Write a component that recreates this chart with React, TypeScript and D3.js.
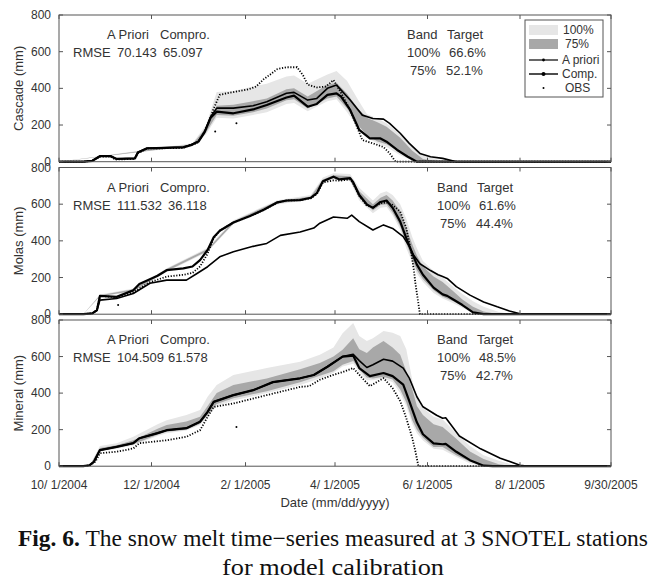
import React from "react";
import * as d3 from "d3";

const W = 666;
const H = 587;

// ---- axis data ----
const xTickDays = [0, 61, 123, 182, 243, 304, 364];
const xTickLabels = ["10/ 1/2004", "12/ 1/2004", "2/ 1/2005", "4/ 1/2005", "6/ 1/2005", "8/ 1/2005", "9/30/2005"];
const yTicks = [0, 200, 400, 600, 800];

const stationNames = ["Cascade (mm)", "Molas (mm)", "Mineral (mm)"];
const rmseApriori = ["70.143", "111.532", "104.509"];
const rmseCompro = ["65.097", "36.118", "61.578"];
const target100 = ["66.6%", "61.6%", "48.5%"];
const target75 = ["52.1%", "44.4%", "42.7%"];

type P = [number, number];
type B = [number, number, number, number, number]; // day, lo100, lo75, hi75, hi100

// ---- Cascade ----
const cascadeObs: P[] = [[0,0],[16,0],[22,5],[27,28],[34,28],[37,12],[50,15],[52,45],[58,72],[82,75],[86,90],[91,100],[95,150],[99,220],[102,290],[106,365],[115,380],[125,395],[130,410],[135,450],[140,480],[144,505],[150,515],[157,515],[161,470],[164,420],[170,405],[176,410],[181,445],[185,390],[192,282],[200,118],[207,100],[214,80],[218,46],[222,0],[364,0]];
const cascadeObsOut: P[] = [[103,165],[117,210]];
const cascadeApriori: P[] = [[0,0],[16,0],[22,5],[27,32],[34,32],[38,15],[50,18],[52,52],[58,75],[82,80],[87,92],[92,112],[96,165],[100,245],[104,292],[115,292],[128,305],[137,327],[150,373],[155,378],[164,336],[170,345],[177,400],[183,418],[185,400],[192,336],[200,254],[207,236],[214,232],[218,209],[225,155],[231,100],[238,45],[245,27],[253,18],[262,0],[364,0]];
const cascadeComp: P[] = [[0,0],[16,0],[22,5],[27,30],[34,30],[38,15],[50,18],[52,50],[58,72],[82,78],[87,90],[92,110],[96,160],[100,240],[104,273],[115,264],[128,285],[137,309],[150,350],[155,360],[164,300],[170,315],[177,364],[183,373],[186,355],[192,282],[198,173],[205,127],[212,127],[216,109],[223,64],[230,27],[236,0],[364,0]];
const cascadeBand: B[] = [[0,0,0,0,0],[88,85,88,95,100],[97,150,160,185,200],[104,240,255,305,380],[115,235,250,310,385],[128,255,270,330,410],[137,270,290,345,425],[150,315,335,395,465],[155,320,340,400,470],[164,275,290,355,425],[177,330,345,420,475],[183,340,355,430,495],[190,270,290,370,440],[197,185,200,290,340],[203,130,145,240,260],[210,100,110,215,235],[216,80,95,190,210],[225,35,50,130,150],[233,5,15,60,80],[240,0,0,15,40],[250,0,0,2,10],[260,0,0,0,0],[364,0,0,0,0]];

// ---- Molas ----
const molasObs: P[] = [[0,0],[16,0],[22,5],[25,22],[27,100],[38,92],[49,120],[60,175],[71,205],[82,215],[88,225],[93,260],[98,330],[102,415],[106,455],[115,500],[126,535],[135,568],[144,608],[150,620],[159,622],[166,632],[170,655],[174,718],[181,730],[185,728],[192,735],[194,712],[198,645],[203,592],[207,582],[212,605],[216,610],[220,595],[225,560],[229,470],[232,350],[234,240],[235,170],[236,113],[237,58],[238,0],[364,0]];
const molasObsOut: P[] = [[39,50]];
const molasApriori: P[] = [[0,0],[16,0],[22,5],[25,20],[27,77],[38,86],[49,113],[60,169],[71,186],[84,186],[91,222],[98,259],[106,313],[115,341],[128,370],[137,386],[146,430],[159,448],[168,470],[172,496],[181,530],[190,523],[193,540],[198,505],[207,459],[214,487],[220,468],[227,423],[231,370],[234,320],[238,275],[245,238],[250,215],[253,205],[256,195],[262,150],[271,104],[280,67],[289,40],[297,18],[304,2],[310,0],[364,0]];
const molasComp: P[] = [[0,0],[16,0],[22,5],[25,22],[27,100],[38,95],[49,130],[53,165],[65,210],[71,240],[82,250],[88,260],[93,295],[98,350],[102,420],[106,455],[115,500],[126,535],[135,570],[144,610],[150,620],[159,622],[166,635],[170,660],[174,725],[181,750],[185,735],[192,742],[194,720],[198,650],[203,598],[207,580],[212,612],[216,620],[220,580],[225,505],[229,415],[233,330],[236,270],[240,215],[247,145],[253,108],[256,100],[260,80],[266,50],[273,10],[280,0],[364,0]];
const molasBand: B[] = [[0,0,0,0,0],[16,0,0,0,0],[27,95,98,104,108],[49,122,126,136,140],[71,230,234,246,250],[98,340,345,356,362],[115,490,494,507,512],[144,598,604,616,622],[166,625,630,642,650],[174,710,718,735,745],[181,735,742,758,768],[192,725,732,752,765],[198,620,635,670,690],[207,550,565,600,620],[212,580,595,635,660],[216,585,600,650,670],[220,540,555,620,650],[225,460,480,560,600],[229,360,385,470,520],[233,280,300,380,420],[236,220,240,320,360],[240,175,190,260,290],[247,115,130,205,235],[253,85,95,175,200],[260,60,70,125,150],[266,35,45,80,110],[273,5,12,40,70],[280,0,0,15,40],[290,0,0,0,12],[300,0,0,0,0],[364,0,0,0,0]];

// ---- Mineral ----
const mineralObs: P[] = [[0,0],[16,0],[20,3],[24,25],[27,71],[38,79],[49,97],[53,126],[71,142],[84,161],[93,197],[98,270],[102,324],[115,343],[137,389],[159,434],[165,438],[172,473],[181,500],[187,515],[194,537],[200,482],[205,438],[214,482],[220,427],[225,356],[229,263],[233,153],[235,82],[237,0],[364,0]];
const mineralObsOut: P[] = [[117,215]];
const mineralApriori: P[] = [[0,0],[16,0],[20,5],[23,24],[27,88],[38,106],[49,126],[53,153],[65,181],[71,197],[84,208],[93,243],[98,297],[102,352],[115,389],[128,416],[141,460],[159,481],[168,499],[177,544],[187,600],[194,612],[198,578],[203,540],[207,555],[214,585],[220,575],[227,537],[231,482],[236,380],[240,325],[249,279],[253,262],[255,265],[264,165],[278,95],[291,44],[304,5],[310,0],[364,0]];
const mineralComp: P[] = [[0,0],[16,0],[20,5],[23,24],[27,88],[38,106],[49,126],[53,153],[65,181],[71,197],[84,208],[93,243],[98,297],[102,352],[115,389],[128,416],[141,460],[159,481],[168,499],[177,544],[187,600],[194,605],[198,537],[205,493],[214,510],[220,493],[227,446],[231,356],[236,240],[240,175],[247,125],[253,120],[255,122],[262,79],[271,33],[280,3],[286,0],[364,0]];
const mineralBand: B[] = [[0,0,0,0,0],[20,0,0,0,0],[27,80,85,100,110],[38,95,100,115,125],[49,115,120,142,161],[65,165,172,205,230],[71,180,188,225,252],[84,195,200,245,280],[93,225,232,270,307],[98,270,280,330,380],[104,330,340,400,444],[115,360,372,444,499],[137,400,410,480,537],[159,445,460,530,571],[172,480,495,565,610],[181,510,520,600,650],[187,545,555,637,728],[194,560,575,700,784],[198,515,530,640,712],[203,470,485,620,685],[207,470,480,650,700],[214,480,490,685,740],[220,460,475,650,730],[225,400,420,610,712],[229,330,350,520,640],[233,230,250,420,470],[236,180,200,330,370],[240,140,155,280,320],[247,95,105,230,270],[253,90,105,215,255],[262,50,60,150,180],[271,15,25,80,110],[280,0,3,40,60],[290,0,0,10,30],[300,0,0,0,5],[305,0,0,0,0],[364,0,0,0,0]];

const obsSeries = [cascadeObs, molasObs, mineralObs];
const obsOutliers = [cascadeObsOut, molasObsOut, mineralObsOut];
const aprioriSeries = [cascadeApriori, molasApriori, mineralApriori];
const compSeries = [cascadeComp, molasComp, mineralComp];
const bandSeries = [cascadeBand, molasBand, mineralBand];

// ---- layout ----
const X0 = 59, X1 = 611;
const panelTops = [15, 167.5, 320];
const panelBottoms = [161.7, 314.2, 466.2];
const bandX = [407, 437, 437];

const FONT = "'Liberation Sans', Arial, sans-serif";
const SERIF = "'Liberation Serif', 'Times New Roman', serif";
const TXT = "#333";
const AX = "#555";
const LIGHT = "#e6e6e6";
const DARK = "#a8a8a8";

const x = d3.scaleLinear().domain([0, 364]).range([X0, X1]);

function Panel({ i }: { i: number }) {
  const top = panelTops[i];
  const bot = panelBottoms[i];
  const y = d3.scaleLinear().domain([0, 800]).range([bot, top]);
  const line = d3.line<P>().x((d) => x(d[0])).y((d) => y(d[1]));
  const area100 = d3.area<B>().x((d) => x(d[0])).y0((d) => y(d[1])).y1((d) => y(d[4]));
  const area75 = d3.area<B>().x((d) => x(d[0])).y0((d) => y(d[2])).y1((d) => y(d[3]));
  const tl = 4;
  const bx = bandX[i];
  return (
    <g>
      <path d={area100(bandSeries[i]) || ""} fill={LIGHT} />
      <path d={area75(bandSeries[i]) || ""} fill={DARK} />
      <path d={line(aprioriSeries[i]) || ""} fill="none" stroke="#000" strokeWidth={1.6} strokeLinejoin="round" />
      <path d={line(compSeries[i]) || ""} fill="none" stroke="#000" strokeWidth={2.2} strokeLinejoin="round" />
      <path d={line(obsSeries[i]) || ""} fill="none" stroke="#000" strokeWidth={1.8} strokeDasharray="1.2 1.6" />
      {obsOutliers[i].map((d, k) => (
        <circle key={k} cx={x(d[0])} cy={y(d[1])} r={1} fill="#000" />
      ))}
      {/* frame */}
      <rect x={X0} y={top} width={X1 - X0} height={bot - top} fill="none" stroke={AX} strokeWidth={1} />
      {xTickDays.map((d, k) => (
        <g key={"xt" + k}>
          <line x1={x(d)} x2={x(d)} y1={bot} y2={bot - tl} stroke={AX} />
          <line x1={x(d)} x2={x(d)} y1={top} y2={top + tl} stroke={AX} />
        </g>
      ))}
      {yTicks.map((v, k) => (
        <g key={"yt" + k}>
          <line x1={X0} x2={X0 + tl} y1={y(v)} y2={y(v)} stroke={AX} />
          <line x1={X1} x2={X1 - tl} y1={y(v)} y2={y(v)} stroke={AX} />
          <text x={51} y={y(v) + 4} textAnchor="end" fontSize={12} fill={TXT} fontFamily={FONT}>{v}</text>
        </g>
      ))}
      <text transform={`translate(23,${(top + bot) / 2}) rotate(-90)`} textAnchor="middle" fontSize={13} fill={TXT} fontFamily={FONT}>{stationNames[i]}</text>
      {/* annotations */}
      <g fontSize={13} fill={TXT} fontFamily={FONT}>
        <text x={107} y={top + 24}>A Priori</text>
        <text x={160} y={top + 24}>Compro.</text>
        <text x={73} y={top + 42}>RMSE</text>
        <text x={117} y={top + 42}>{rmseApriori[i]}</text>
        <text x={i === 0 ? 163 : 168} y={top + 42}>{rmseCompro[i]}</text>
        <text x={bx} y={top + 24}>Band</text>
        <text x={bx + 40} y={top + 24}>Target</text>
        <text x={bx} y={top + 42}>100%</text>
        <text x={bx + 42} y={top + 42}>{target100[i]}</text>
        <text x={bx + 3} y={top + 60}>75%</text>
        <text x={bx + 39} y={top + 60}>{target75[i]}</text>
      </g>
    </g>
  );
}

function Legend() {
  const lx = 525, ly = 20, lw = 78, lh = 77;
  const sx0 = 529, sx1 = 558;
  return (
    <g fontFamily={FONT} fontSize={12} fill={TXT}>
      <rect x={lx} y={ly} width={lw} height={lh} fill="#fff" stroke={AX} />
      <rect x={sx0} y={25} width={sx1 - sx0} height={10} fill={LIGHT} />
      <text x={563} y={34}>100%</text>
      <rect x={sx0} y={39} width={sx1 - sx0} height={10} fill={DARK} />
      <text x={565} y={48}>75%</text>
      <line x1={sx0} x2={sx1} y1={60} y2={60} stroke="#000" strokeWidth={1.2} />
      <circle cx={(sx0 + sx1) / 2} cy={60} r={1.4} fill="#000" />
      <text x={562} y={64}>A priori</text>
      <line x1={sx0} x2={sx1} y1={74} y2={74} stroke="#000" strokeWidth={1.4} />
      <circle cx={(sx0 + sx1) / 2} cy={74} r={2} fill="#000" />
      <text x={562} y={78}>Comp.</text>
      <circle cx={(sx0 + sx1) / 2} cy={88} r={1} fill="#000" />
      <text x={565} y={92}>OBS</text>
    </g>
  );
}

export default function App() {
  const botPanel = panelBottoms[2];
  return (
    <svg width={W} height={H} style={{ position: "absolute", left: 0, top: 0, background: "#fff" }}>
      <rect x={0} y={0} width={W} height={H} fill="#fff" />
      {[0, 1, 2].map((i) => <Panel key={i} i={i} />)}
      <Legend />
      {xTickDays.map((d, k) => (
        <text key={k} x={x(d)} y={botPanel + 23} textAnchor="middle" fontSize={12} fill={TXT} fontFamily={FONT}>{xTickLabels[k]}</text>
      ))}
      <text x={(X0 + X1) / 2} y={botPanel + 41} textAnchor="middle" fontSize={13} fill={TXT} fontFamily={FONT}>Date (mm/dd/yyyy)</text>
      <text x={18} y={546} fontSize={23} fill="#111" fontFamily={SERIF} textLength={630} lengthAdjust="spacingAndGlyphs">
        <tspan fontWeight="bold">Fig. 6.</tspan> The snow melt time−series measured at 3 SNOTEL stations
      </text>
      <text x={222} y={575} fontSize={23} fill="#111" fontFamily={SERIF} textLength={222} lengthAdjust="spacingAndGlyphs">for model calibration</text>
    </svg>
  );
}
